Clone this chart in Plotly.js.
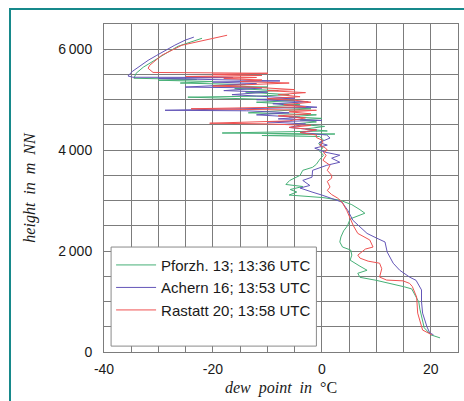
<!DOCTYPE html>
<html><head><meta charset="utf-8">
<script src="https://cdn.plot.ly/plotly-3.0.1.min.js"></script>
<style>
html,body{margin:0;padding:0;background:#fff;}
#wrap{position:relative;width:464px;height:401px;overflow:hidden;}
#chart{position:absolute;left:0;top:0;width:464px;height:401px;}
#frame{position:absolute;left:9px;top:8px;width:600px;height:600px;border-left:2px solid #17898b;border-top:2px solid #17898b;pointer-events:none;}
</style></head>
<body><div id="wrap"><div id="chart"></div><div id="frame"></div></div>
<script>
// Pforzh. 13 (green)
const pfH = [6217,6140,6059,5940,5821,5730,5643,5524,5425,5400,5385,5360,5330,5300,5280,5250,5220,5180,5150,5100,5070,5050,5035,5000,4980,4950,4900,4860,4820,4780,4740,4700,4660,4630,4600,4560,4520,4470,4420,4380,4340,4320,4290,4270,4200,4130,4050,3980,3900,3800,3720,3660,3600,3500,3400,3320,3280,3220,3170,3110,3060,3010,2920,2820,2750,2650,2610,2500,2400,2280,2180,2080,2020,1920,1820,1700,1620,1560,1480,1420,1350,1290,1250,1090,990,850,480,340,280];
const pfT = [-22.0,-24.0,-26.4,-28.3,-30.1,-31.5,-32.8,-34.1,-34.5,-23,-30,-20,-26,-14,-20,-10,-16,-8,-14,-6,-12,-24.6,-18,-8,-5,-12,-4,-10,-2,-8,-13.5,-1,-6,0,-4,-1,-5,0.5,-3,1,-18.3,2.4,-11,-0.4,0.3,-0.6,0.2,-0.4,0.3,-0.5,-1.0,-1.7,-3.5,-4.0,-5.9,-6.6,-3.5,-5.8,-4.6,-6,0.2,3.3,5.5,7.0,7.9,5.5,5.1,4.7,4.0,3.5,3.3,3.8,5.3,5.5,5.2,7.0,8.3,6.6,7.0,10,13,15.2,16.5,17.4,17.8,18.0,18.8,20.0,21.7];

// Achern 16 (purple)
const acH = [6240,6180,6080,5980,5880,5780,5700,5640,5560,5470,5445,5440,5420,5372,5350,5320,5250,5232,5180,5150,5100,5030,5000,4960,4920,4850,4830,4790,4780,4740,4700,4650,4620,4590,4560,4520,4450,4400,4350,4300,4240,4150,4100,4040,3960,3900,3840,3760,3700,3600,3465,3400,3300,3250,3170,3110,2970,2800,2610,2350,2260,2180,1980,1760,1620,1485,1420,1230,1000,770,500,380,340];
const acT = [-23.5,-25.1,-27,-28.8,-30.3,-31.9,-33,-33.8,-34.8,-35.6,-34.7,-16.3,-30,-7.7,-20,-12,-25.1,-11,-18,-10,-16.5,-5,-12,-2.5,-9,-0.9,-10,-28.8,-13.8,-6,-12,-4,-8,0,-10,-3,-6,-1,-4,0.9,1.5,-0.5,1.0,-1.3,0.6,3.3,1.8,3.3,0.9,-1.7,-1.8,-3.5,-2.2,-4.0,-1.8,0,3.7,4.8,5.7,8.3,10,11.6,12.0,13.1,14.3,16.1,17.3,18.3,18.3,18.5,19.3,19.8,20.5];

// Rastatt 20 (red)
const raH = [6277,6197,6079,5880,5683,5623,5540,5524,5505,5480,5460,5440,5420,5390,5360,5330,5300,5270,5250,5200,5180,5140,5100,5060,5020,4990,4950,4900,4860,4820,4790,4760,4720,4680,4640,4580,4534,4520,4490,4450,4400,4350,4300,4250,4200,4150,4100,4050,4000,3950,3900,3800,3700,3600,3500,3445,3380,3270,3200,3120,3050,2970,2800,2670,2500,2350,2220,2080,2040,1920,1860,1800,1760,1650,1540,1485,1425,1410,1360,1300,1090,770,435,340];
const raT = [-17.4,-20.9,-25.7,-29.4,-31.6,-31.9,-31.0,-9.9,-20,-11,-25,-12,-18,-11,-15,-6,-12,-20,-13,-5,-10,-3,-8,-4,-10,-5,-2,-7,-3,-24,-1,-6,-2,-8,-3,-6,-20.6,-10,-2,-6,-1,-4,-1,-1.0,0.0,0.2,-0.4,0.6,1.0,0.3,0.8,0.2,1.5,1.0,1.8,1.8,1.0,1.5,1.0,1.8,2.9,3.7,4.6,5.1,5.8,6.6,8.8,9.4,8.0,6.6,7.0,8.5,10.6,11.0,10.8,10.6,11.9,14.9,16.1,16.6,17.4,17.6,18.5,20.2];

const seriesNames = ['Pforzh. 13; 13:36 UTC','Achern 16; 13:53 UTC','Rastatt 20; 13:58 UTC'];
const xTickVals = [-40,-35,-30,-25,-20,-15,-10,-5,0,5,10,15,20,25];
const xTickText = ['-40','','','','-20','','','','0','','','','20',''];
const yTickVals = [0,500,1000,1500,2000,2500,3000,3500,4000,4500,5000,5500,6000,6500];
const yTickText = ['0','','','','2\u2009000','','','','4\u2009000','','','','6\u2009000',''];

const colors = ['#46b076','#6456b8','#ef5252'];
const traces = [
  {x: pfT, y: pfH, name: seriesNames[0]},
  {x: acT, y: acH, name: seriesNames[1]},
  {x: raT, y: raH, name: seriesNames[2]}
].map((t,i)=>Object.assign(t,{type:'scatter',mode:'lines',line:{color:colors[i],width:1}}));

const layout = {
  width:464, height:401,
  margin:{l:104,r:6,t:24,b:49},
  paper_bgcolor:'#fff', plot_bgcolor:'#fff',
  font:{family:'Liberation Sans, Arial, sans-serif', size:14, color:'#1a1a1a'},
  showlegend:true,
  legend:{x:0.02, y:0.315, xanchor:'left', yanchor:'top', bgcolor:'rgba(0,0,0,0)', borderwidth:0,
          font:{size:15, family:'Liberation Sans, Arial, sans-serif', color:'#1a1a1a'}, itemwidth:40, tracegroupgap:0},
  xaxis:{range:[-40,25], tickmode:'array', tickvals:xTickVals, ticktext:xTickText, showgrid:true, gridcolor:'#7c7c7c', gridwidth:1,
         zeroline:false, showline:true, mirror:true, linecolor:'#7c7c7c', linewidth:1, ticks:'', ticklabelstandoff:4,
         title:{text:'<i>dew\u00a0\u00a0point\u00a0\u00a0in</i>\u00a0\u00a0°C', font:{family:'Liberation Serif, Times New Roman, serif', size:16, color:'#1a1a1a'}, standoff:6}},
  yaxis:{range:[0,6500], tickmode:'array', tickvals:yTickVals, ticktext:yTickText, showgrid:true, gridcolor:'#7c7c7c', gridwidth:1,
         zeroline:false, showline:true, mirror:true, linecolor:'#7c7c7c', linewidth:1, ticks:'', ticklabelstandoff:8,
         title:{text:'<i>height\u00a0\u00a0in\u00a0\u00a0m\u00a0\u00a0NN</i>', font:{family:'Liberation Serif, Times New Roman, serif', size:16, color:'#1a1a1a'}, standoff:18}},
  shapes:[{type:'rect', xref:'paper', yref:'paper', x0:0.02, x1:0.6, y0:0.018, y1:0.32, fillcolor:'#ffffff', line:{color:'#8a8a8a', width:1}, layer:'above'}]
};
Plotly.newPlot('chart', traces, layout, {displayModeBar:false, staticPlot:true});
</script></body></html>
